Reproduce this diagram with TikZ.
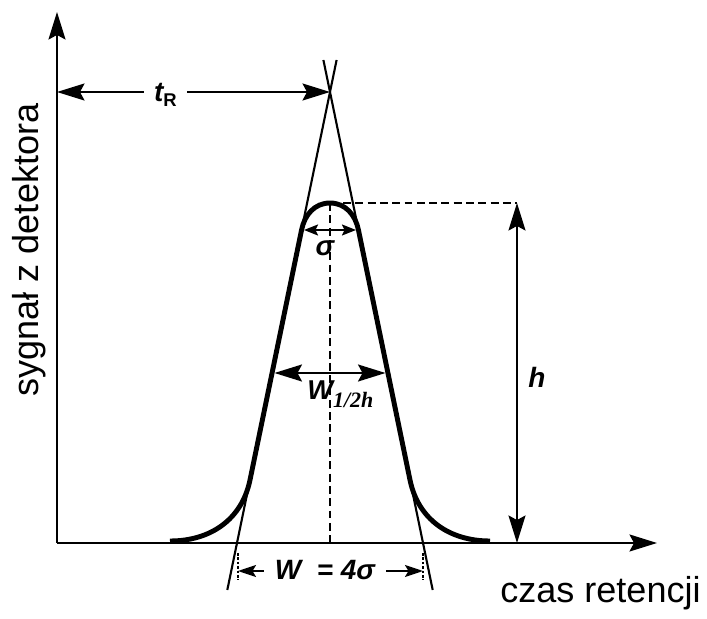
\documentclass[tikz,border=0pt]{standalone}
\usepackage{fontspec}
\setmainfont{Liberation Sans}
\newfontfamily\timesfont{Liberation Serif}
\usetikzlibrary{arrows.meta}

\begin{document}
\begin{tikzpicture}[>={Stealth[length=5.5mm,width=3.4mm,inset=0.9mm]},
    achse/.style={line width=1.2pt},
    kurve/.style={line width=2.8pt},
    tangente/.style={line width=1.2pt},
    hilfslinie/.style={line width=1.1pt, dash pattern=on 4.5pt off 2.5pt},
    massp/.style={line width=1.1pt},
    kleinpfeil/.style={>={Stealth[length=2.8mm,width=2.2mm,inset=0.5mm]}},
    mittelpfeil/.style={>={Stealth[length=3.6mm,width=2.4mm,inset=0.7mm]}},
    groesse/.style={font=\fontsize{15.9}{18}\selectfont\bfseries\itshape},
    beschriftung/.style={font=\fontsize{20.5}{24}\selectfont}]

        \useasboundingbox (0,0) rectangle (14.14,12.38);

        % Punkte
        \coordinate (O) at (1.14,1.52);
        \coordinate (ytop) at (1.14,12.14);
        \coordinate (xend) at (13.14,1.52);
        \coordinate (S) at (6.6,10.54);
        \coordinate (P) at (6.6,8.32);
        \coordinate (Pb) at (6.6,1.52);
        \coordinate (hP) at (10.34,8.32);
        \coordinate (hB) at (10.34,1.52);

        % Achsen zeichnen
        \draw[achse,->] (O) -- (ytop);
        \draw[achse,->] (O) -- (xend);

        % Achsenbeschriftungen
        \node[beschriftung, rotate=90] (ylab) at (0.58,7.38) {sygnał z detektora};
        \node[beschriftung, anchor=base] (xlab) at (12.01,0.32) {czas retencji};

        % Wendetangenten
        \foreach \a/\b in {{(4.546,0.58)}/{(6.732,11.18)}, {(8.654,0.58)}/{(6.468,11.18)}}
        \draw[tangente] \a -- \b;

        % Peak
        \draw[kurve] (3.4,1.56) .. controls (4.2,1.56) and (4.835,1.98) .. (5.0,2.78)
            -- (6.031,7.78) .. controls (6.09,8.08) and (6.29,8.32) .. (P)
            .. controls (6.91,8.32) and (7.11,8.08) .. (7.169,7.78)
            -- (8.2,2.78) .. controls (8.365,1.98) and (9.0,1.56) .. (9.8,1.56);

        % Hilfslinien
        \draw[hilfslinie] (P) -- (Pb);
        \draw[hilfslinie] (6.86,8.32) -- (hP);

        % Retentionszeit
        \node[groesse, inner xsep=0.2cm] (tR) at (3.31,10.48)
            {t\raisebox{-0.2em}{\fontsize{10.5}{11}\selectfont\upshape R}};
        \draw[massp,->] (tR.west |- S) -- (S -| O);
        \draw[massp,->] (tR.east |- S) -- (S);

        % Hoehe
        \draw[massp,<->] (hP) -- (hB);
        \node[groesse] (h) at (10.74,4.84) {h};

        % sigma
        \coordinate (sL) at (6.08,7.78);
        \coordinate (sR) at (7.12,7.78);
        \draw[massp,kleinpfeil,<->] (sL) -- (sR);
        \node[groesse] (sigma) at (6.5,7.42) {σ};

        % Halbwertsbreite
        \coordinate (hwL) at (5.49,4.92);
        \coordinate (hwR) at (7.71,4.92);
        \draw[massp,<->] (hwL) -- (hwR);
        \node[anchor=base west, inner sep=0pt,
              font=\fontsize{15.5}{17}\selectfont\bfseries\itshape] (hw) at (6.14,4.38)
            {W\raisebox{-0.16cm}{\fontsize{12.5}{13}\selectfont\timesfont\bfseries\itshape 1/2h}};

        % Basisbreite
        \foreach \x in {4.76,8.46}
        \draw[line width=0.6pt, dash pattern=on 1.5pt off 1pt] (\x,1.32) -- (\x,0.78);
        \coordinate (bL) at (4.76,0.96);
        \coordinate (bR) at (8.46,0.96);
        \node[groesse, inner xsep=0.22cm] (W4) at (6.5,0.98) {W\ \ = 4σ};
        \draw[massp,mittelpfeil,->] (W4.west |- bL) -- (bL);
        \draw[massp,mittelpfeil,->] (W4.east |- bR) -- (bR);

    \end{tikzpicture}
\end{document}
